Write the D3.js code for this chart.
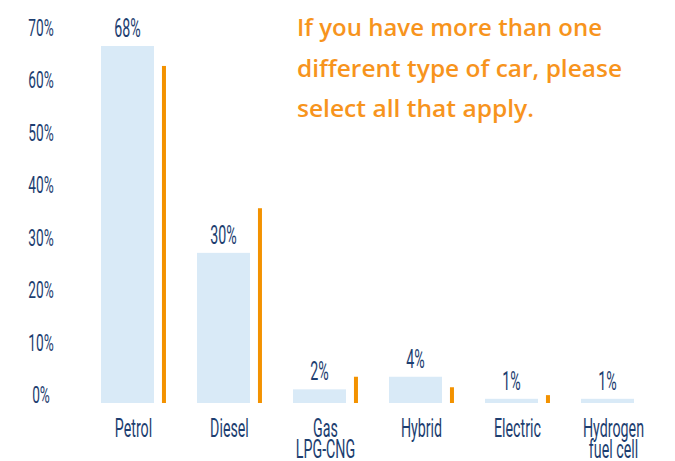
<!DOCTYPE html>
<html>
<head>
<meta charset="utf-8">
<script src="https://cdn.jsdelivr.net/npm/d3@7"></script>
<style>
  body { margin: 0; background: #fff; }
  svg { display: block; }
</style>
</head>
<body>
<svg id="chart" width="675" height="461"></svg>
<script>
// data
const categories = ["Petrol", "Diesel", "Gas LPG-CNG", "Hybrid", "Electric", "Hydrogen fuel cell"];
const categoryLines = [["Petrol"], ["Diesel"], ["Gas", "LPG-CNG"], ["Hybrid"], ["Electric"], ["Hydrogen", "fuel cell"]];
const barValues = [68, 28.6, 2.6, 5.0, 0.8, 0.8];
const barLabels = ["68%", "30%", "2%", "4%", "1%", "1%"];
const lineValues = [64.2, 37.1, 5.0, 3.0, 1.5, 0];
const yTicks = [0, 10, 20, 30, 40, 50, 60, 70];
const noteLines = ["If you have more than one", "different type of car, please", "select all that apply."];
const noteWidths = [305, 325, 237];

const navy = "#1d3e70";
const lightBlue = "#d9eaf7";
const orange = "#f39200";
const noteOrange = "#f7941d";
const condensed = 0.57;

const svg = d3.select("#chart");

const x = d3.scaleBand().domain(categories).range([101, 677]);
const y = d3.scaleLinear().domain([0, 70]).range([403, 35.5]);

const barW = x.bandwidth() * 0.552;
const lineOff = x.bandwidth() * 0.635;
const lineW = 4;

// condensed text helper
function ctext(g, tx, ty, size) {
  return g.append("text")
    .attr("transform", "translate(" + tx + "," + ty + ") scale(" + condensed + ",1)")
    .attr("text-anchor", "middle")
    .attr("font-family", "Roboto, Liberation Sans, sans-serif")
    .attr("font-weight", 400)
    .attr("font-size", size)
    .attr("fill", navy);
}

// y tick labels
const axis = svg.append("g");
yTicks.forEach(function (t) {
  ctext(axis, 41, y(t), 24).text(t + "%");
});

// bars
svg.append("g")
  .selectAll("rect")
  .data(categories)
  .join("rect")
  .attr("x", d => x(d))
  .attr("y", (d, i) => y(barValues[i]))
  .attr("width", barW)
  .attr("height", (d, i) => y(0) - y(barValues[i]))
  .attr("fill", lightBlue);

// orange comparison lines
svg.append("g")
  .selectAll("rect")
  .data(categories.filter((d, i) => lineValues[i] > 0))
  .join("rect")
  .attr("x", d => x(d) + lineOff)
  .attr("y", d => y(lineValues[categories.indexOf(d)]))
  .attr("width", lineW)
  .attr("height", d => y(0) - y(lineValues[categories.indexOf(d)]))
  .attr("fill", orange);

// value labels
const vl = svg.append("g");
categories.forEach(function (c, i) {
  ctext(vl, x(c) + barW / 2, y(barValues[i]) - 9, 25).text(barLabels[i]);
});

// category labels
const cl = svg.append("g");
categories.forEach(function (c, i) {
  const cx = x(c) + (lineOff + lineW) / 2;
  categoryLines[i].forEach(function (ln, j) {
    ctext(cl, cx, 437 + j * 21, 25).text(ln);
  });
});

// note text
const note = svg.append("g");
noteLines.forEach(function (ln, i) {
  note.append("text")
    .attr("x", 297)
    .attr("y", 36 + i * 40.5)
    .attr("font-family", "Open Sans, sans-serif")
    .attr("font-weight", 600)
    .attr("font-size", 23.5)
    .attr("fill", noteOrange)
    .attr("textLength", noteWidths[i])
    .attr("lengthAdjust", "spacingAndGlyphs")
    .text(ln);
});
</script>
</body>
</html>
